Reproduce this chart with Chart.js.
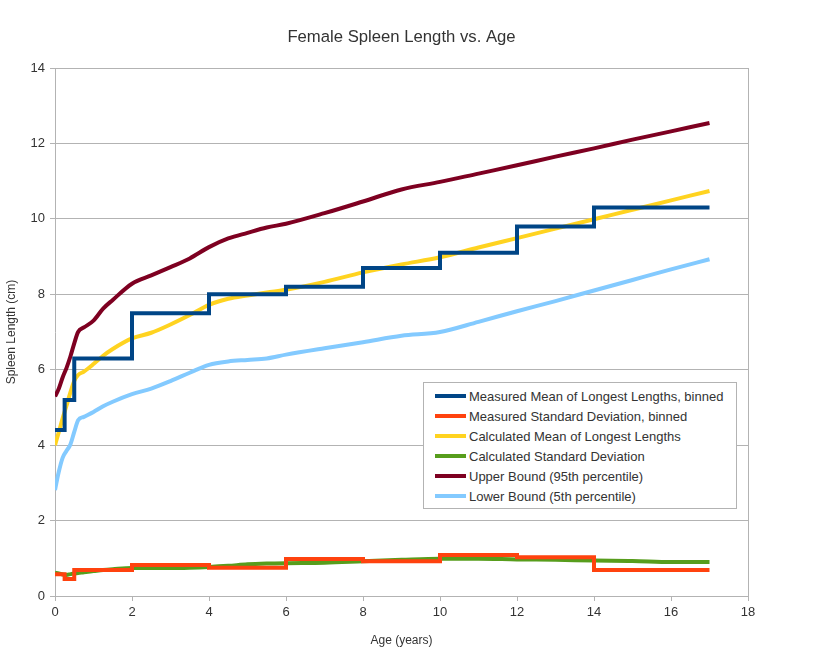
<!DOCTYPE html>
<html>
<head>
<meta charset="utf-8">
<script src="https://cdn.jsdelivr.net/npm/chart.js@4.4.1/dist/chart.umd.min.js"></script>
<style>
  html, body { margin:0; padding:0; background:#fff; }
  #wrap { position:relative; width:816px; height:648px; }
  #legend {
    position:absolute; left:423px; top:382px; width:314px; height:127px;
    box-sizing:border-box; border:1px solid #b3b3b3; background:#fff;
    padding-top:3px; font-family:"Liberation Sans", Arial, sans-serif;
  }
  #legend .row { display:flex; align-items:center; height:20px; font-size:13px; color:#333; white-space:nowrap; }
  #legend .sw { display:inline-block; width:31px; height:4px; margin-left:11px; margin-right:3px; }
</style>
</head>
<body>
<div id="wrap">
  <canvas id="c" width="816" height="648"></canvas>
  <div id="legend"></div>
</div>
<script>
// ── DATA ─────────────────────────────
// binned measurements: value holds from each edge to the next
const BIN_EDGES   = [0, 0.25, 0.5, 2, 4, 6, 8, 10, 12, 14, 17];
const MEAN_BINNED = [4.4, 5.2, 6.3, 7.5, 8.0, 8.2, 8.7, 9.1, 9.8, 10.3, 10.3];
const SD_BINNED   = [0.58, 0.45, 0.69, 0.82, 0.75, 0.98, 0.92, 1.09, 1.03, 0.69, 0.69];

// calculated curves
const AGES      = [0, 0.1, 0.2, 0.3, 0.4, 0.5, 0.6, 0.75, 1, 1.25, 1.5, 2, 2.5, 3, 3.5, 4, 4.5, 5, 5.5, 6, 7, 8, 9, 10, 11, 12, 13, 14, 15, 16, 17];
const CALC_MEAN = [4.0, 4.35, 4.72, 5.05, 5.4, 5.7, 5.86, 5.95, 6.15, 6.37, 6.55, 6.83, 6.98, 7.2, 7.45, 7.72, 7.88, 7.97, 8.05, 8.12, 8.33, 8.58, 8.79, 8.98, 9.24, 9.49, 9.74, 9.99, 10.24, 10.49, 10.74];
const CALC_SD   = [0.62, 0.6, 0.57, 0.56, 0.58, 0.6, 0.61, 0.63, 0.66, 0.69, 0.71, 0.74, 0.74, 0.74, 0.75, 0.77, 0.8, 0.84, 0.86, 0.87, 0.88, 0.92, 0.96, 0.99, 0.99, 0.97, 0.96, 0.94, 0.93, 0.9, 0.9];
const UPPER_95  = [5.29, 5.5, 5.8, 6.05, 6.35, 6.7, 7.0, 7.12, 7.3, 7.62, 7.85, 8.28, 8.5, 8.72, 8.95, 9.25, 9.48, 9.63, 9.77, 9.87, 10.15, 10.46, 10.78, 10.98, 11.2, 11.42, 11.65, 11.87, 12.1, 12.32, 12.54];
const LOWER_5   = [2.81, 3.3, 3.67, 3.85, 4.02, 4.35, 4.66, 4.75, 4.88, 5.03, 5.15, 5.35, 5.5, 5.7, 5.92, 6.13, 6.22, 6.26, 6.3, 6.4, 6.57, 6.73, 6.9, 7.0, 7.27, 7.55, 7.82, 8.1, 8.38, 8.66, 8.93];

const X_MAX = 18, Y_MAX = 14, TICK_STEP = 2;

const GRID = '#b3b3b3';
const TXT  = '#333333';

const pts = (xs, ys) => xs.map((x, i) => ({x, y: ys[i]}));

Chart.defaults.font.family = '"Liberation Sans", Arial, sans-serif';

const line = (label, color, data, extra={}) => ({
  label, data, borderColor: color, backgroundColor: color,
  borderWidth: 4, pointRadius: 0, fill: false, ...extra
});

const chart = new Chart(document.getElementById('c'), {
  type: 'line',
  data: {
    datasets: [
      line('Measured Mean of Longest Lengths, binned', '#004586', pts(BIN_EDGES, MEAN_BINNED), {stepped: true}),
      line('Measured Standard Deviation, binned', '#ff420e', pts(BIN_EDGES, SD_BINNED), {stepped: true}),
      line('Calculated Mean of Longest Lengths', '#ffd320', pts(AGES, CALC_MEAN), {cubicInterpolationMode: 'monotone'}),
      line('Calculated Standard Deviation', '#579d1c', pts(AGES, CALC_SD), {cubicInterpolationMode: 'monotone'}),
      line('Upper Bound (95th percentile)', '#7e0021', pts(AGES, UPPER_95), {cubicInterpolationMode: 'monotone'}),
      line('Lower Bound (5th percentile)', '#83caff', pts(AGES, LOWER_5), {cubicInterpolationMode: 'monotone'}),
    ]
  },
  options: {
    responsive: false, animation: false,
    layout: {padding: {left: 0, right: 68, top: 0, bottom: 0}},
    plugins: {
      legend: {display: false},
      tooltip: {enabled: false},
      title: {
        display: true, text: 'Female Spleen Length vs. Age', fullSize: false,
        color: TXT, font: {size: 16.7, weight: 'normal'},
        padding: {top: 27.5, bottom: 20.46}
      }
    },
    scales: {
      x: {
        type: 'linear', min: 0, max: X_MAX,
        ticks: {stepSize: TICK_STEP, color: TXT, font: {size: 13}, padding: 4},
        grid: {
          color: c => (c.tick && c.tick.value === X_MAX) ? GRID : 'rgba(0,0,0,0)',
          tickColor: GRID, tickLength: 5
        },
        border: {color: GRID},
        title: {display: true, text: 'Age (years)', color: TXT, font: {size: 12}, padding: {top: 5, bottom: 0}},
        afterFit: s => { s.height = 52; }
      },
      y: {
        min: 0, max: Y_MAX,
        ticks: {stepSize: TICK_STEP, color: TXT, font: {size: 13}, padding: 5},
        grid: {color: GRID, tickLength: 5},
        border: {color: GRID},
        title: {display: true, text: 'Spleen Length (cm)', color: TXT, font: {size: 12}, padding: {top: 4, bottom: 0}},
        afterFit: s => { s.width = 55; }
      }
    }
  }
});

// ── LEGEND (inside plot, like the original) ─────────
const legendEl = document.getElementById('legend');
chart.data.datasets.forEach(ds => {
  const row = document.createElement('div');
  row.className = 'row';
  const sw = document.createElement('span');
  sw.className = 'sw';
  sw.style.background = ds.borderColor;
  row.appendChild(sw);
  row.appendChild(document.createTextNode(ds.label));
  legendEl.appendChild(row);
});
</script>
</body>
</html>
